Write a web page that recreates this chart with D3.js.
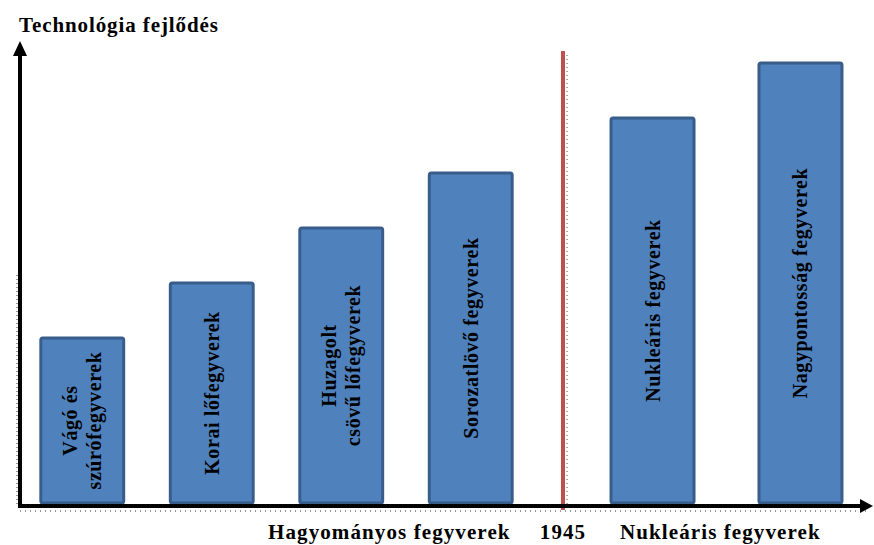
<!DOCTYPE html>
<html><head><meta charset="utf-8">
<script src="https://cdn.jsdelivr.net/npm/d3@7/dist/d3.min.js"></script>
<style>body{margin:0;background:#fff}svg{display:block}</style>
</head><body><svg id="c" width="874" height="545"></svg>
<script>
// Data
const traditionalCategories = [["Vágó és", "szúrófegyverek"], ["Korai lőfegyverek"], ["Huzagolt", "csövű lőfegyverek"], ["Sorozatlövő fegyverek"]];
const traditionalValues = [3, 4, 5, 6];
const nuclearCategories = [["Nukleáris fegyverek"], ["Nagypontosság fegyverek"]];
const nuclearValues = [7, 8];
const yTitle = "Technológia fejlődés";
const groupLabels = ["Hagyományos fegyverek", "Nukleáris fegyverek"];
const dividerLabel = "1945";

const svg = d3.select("#c");
const W = 874, H = 545;
const baseY = 503, axisY = 506, axisX = 20, dividerX = 563;
const font = "'Liberation Serif','Times New Roman',serif";

const y = d3.scaleLinear().domain([0, 8]).range([baseY, 63]);
const xL = d3.scaleBand().domain(d3.range(traditionalValues.length)).range([10, 543]).paddingInner(0.36).paddingOuter(0.238);
const xR = d3.scaleBand().domain(d3.range(nuclearValues.length)).range([573, 880]).paddingInner(0.439).paddingOuter(0.257);

const bars = traditionalValues.map((v, i) => ({v, lines: traditionalCategories[i], x: xL(i), w: xL.bandwidth()}))
  .concat(nuclearValues.map((v, i) => ({v, lines: nuclearCategories[i], x: xR(i), w: xR.bandwidth()})));

// dotted artifacts
svg.append("line").attr("x1", axisX).attr("x2", 868).attr("y1", axisY + 5).attr("y2", axisY + 5)
  .attr("stroke", "#333").attr("stroke-width", 1).attr("stroke-dasharray", "1,4");
svg.append("line").attr("x1", axisX - 3).attr("x2", axisX - 3).attr("y1", 275).attr("y2", axisY)
  .attr("stroke", "#333").attr("stroke-width", 1).attr("stroke-dasharray", "1,3");
svg.append("line").attr("x1", dividerX + 4).attr("x2", dividerX + 4).attr("y1", 55).attr("y2", axisY)
  .attr("stroke", "#555").attr("stroke-width", 1).attr("stroke-dasharray", "1,3");

// bars
const g = svg.append("g");
g.selectAll("rect").data(bars).join("rect")
  .attr("x", d => d.x).attr("width", d => d.w)
  .attr("y", d => y(d.v)).attr("height", d => y(0) - y(d.v))
  .attr("rx", 2)
  .attr("fill", "#4F81BD").attr("stroke", "#385D8A").attr("stroke-width", 3);

// labels in bars (rotated)
const lh = 24;
bars.forEach(d => {
  const cx = d.x + d.w / 2, cy = (y(d.v) + y(0)) / 2;
  const t = svg.append("text")
    .attr("transform", `translate(${cx},${cy}) rotate(-90)`)
    .attr("text-anchor", "middle")
    .attr("font-family", font).attr("font-weight", "bold").attr("font-size", 20)
    .attr("letter-spacing", 0.6).attr("fill", "#000");
  const n = d.lines.length;
  d.lines.forEach((s, k) => {
    t.append("tspan").attr("x", 0).attr("y", (k - (n - 1) / 2) * lh + 7).text(s);
  });
});

// divider
svg.append("line").attr("x1", dividerX).attr("x2", dividerX).attr("y1", 51).attr("y2", 510)
  .attr("stroke", "#C0504D").attr("stroke-width", 4);

// axes
svg.append("line").attr("x1", axisX).attr("x2", axisX).attr("y1", 52).attr("y2", axisY + 2)
  .attr("stroke", "#000").attr("stroke-width", 4);
svg.append("line").attr("x1", axisX - 2).attr("x2", 864).attr("y1", axisY).attr("y2", axisY)
  .attr("stroke", "#000").attr("stroke-width", 4);
svg.append("path").attr("d", `M${axisX},41 L${axisX + 7},56 L${axisX - 7},56 Z`).attr("fill", "#000");
svg.append("path").attr("d", `M873,${axisY} L860,${axisY - 7} L860,${axisY + 7} Z`).attr("fill", "#000");

// title
svg.append("text").attr("x", 19).attr("y", 32)
  .attr("font-family", font).attr("font-weight", "bold").attr("font-size", 21).attr("letter-spacing", 0.9)
  .text(yTitle);

// bottom labels
const bottom = [
  {t: groupLabels[0], x: 268, a: "start"},
  {t: dividerLabel, x: dividerX, a: "middle"},
  {t: groupLabels[1], x: 620, a: "start"}
];
svg.selectAll(".bl").data(bottom).join("text").attr("class", "bl")
  .attr("x", d => d.x).attr("y", 539).attr("text-anchor", d => d.a)
  .attr("font-family", font).attr("font-weight", "bold").attr("font-size", 21).attr("letter-spacing", 1.1)
  .text(d => d.t);
</script></body></html>
